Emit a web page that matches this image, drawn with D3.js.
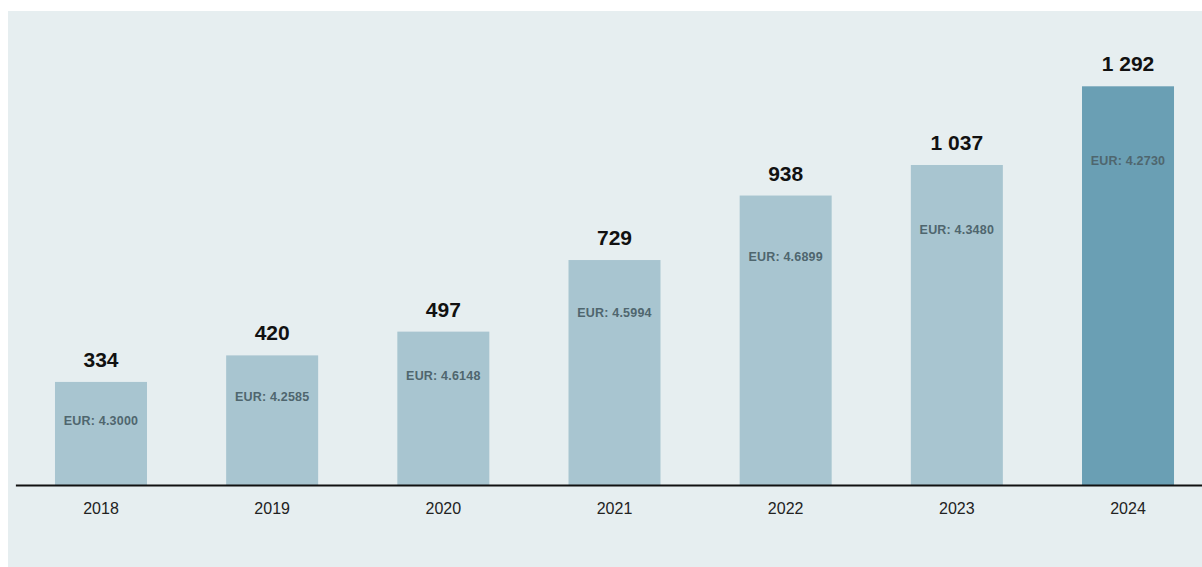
<!DOCTYPE html>
<html>
<head>
<meta charset="utf-8">
<script src="https://cdn.jsdelivr.net/npm/d3@7"></script>
<style>
  html, body { margin: 0; padding: 0; background: #ffffff; }
  svg { display: block; }
</style>
</head>
<body>
<svg id="chart" width="1202" height="567"></svg>
<script>
const years = ["2018", "2019", "2020", "2021", "2022", "2023", "2024"];
const values = [334, 420, 497, 729, 938, 1037, 1292];
const valueLabels = ["334", "420", "497", "729", "938", "1 037", "1 292"];
const eurRates = ["4.3000", "4.2585", "4.6148", "4.5994", "4.6899", "4.3480", "4.2730"];
const highlightYear = "2024";

const W = 1202, H = 567;
const svg = d3.select("#chart");

svg.append("rect")
  .attr("x", 8).attr("y", 11)
  .attr("width", W - 8).attr("height", H - 11)
  .attr("fill", "#e6eef0");

const x = d3.scaleBand()
  .domain(years)
  .range([15.4, 1213.6])
  .paddingInner(0.4625)
  .paddingOuter(0.23125);

const y = d3.scaleLinear()
  .domain([0, 1292])
  .range([485, 86.3]);

const data = years.map((yr, i) => ({ year: yr, value: values[i], label: valueLabels[i], eur: eurRates[i] }));

const g = svg.append("g");

g.selectAll("rect.bar")
  .data(data)
  .join("rect")
  .attr("class", "bar")
  .attr("x", d => x(d.year))
  .attr("y", d => y(d.value))
  .attr("width", x.bandwidth())
  .attr("height", d => y(0) - y(d.value))
  .attr("fill", d => d.year === highlightYear ? "#6a9fb4" : "#a8c5d0");

g.selectAll("text.val")
  .data(data)
  .join("text")
  .attr("class", "val")
  .attr("x", d => x(d.year) + x.bandwidth() / 2)
  .attr("y", d => y(d.value) - 15)
  .attr("text-anchor", "middle")
  .attr("font-family", "'Liberation Sans', Arial, Helvetica, sans-serif")
  .attr("font-weight", "bold")
  .attr("font-size", 21)
  .attr("fill", "#111111")
  .text(d => d.label);

g.selectAll("text.eur")
  .data(data)
  .join("text")
  .attr("class", "eur")
  .attr("x", d => x(d.year) + x.bandwidth() / 2)
  .attr("y", d => {
    const h = y(0) - y(d.value);
    return y(d.value) + 26 + 0.12 * h;
  })
  .attr("dy", "0.35em")
  .attr("text-anchor", "middle")
  .attr("font-family", "'Liberation Sans', Arial, Helvetica, sans-serif")
  .attr("font-weight", "bold")
  .attr("font-size", 12.5)
  .attr("letter-spacing", "0.2")
  .attr("fill", "#4f666e")
  .text(d => "EUR: " + d.eur);

const axis = svg.append("g")
  .attr("transform", "translate(0,485)")
  .call(d3.axisBottom(x).tickSize(0).tickPadding(17.5));

axis.select(".domain")
  .attr("stroke", "#111111")
  .attr("stroke-width", 2);

axis.selectAll(".tick text")
  .attr("font-family", "'Liberation Sans', Arial, Helvetica, sans-serif")
  .attr("font-size", 16)
  .attr("fill", "#222222");
</script>
</body>
</html>
